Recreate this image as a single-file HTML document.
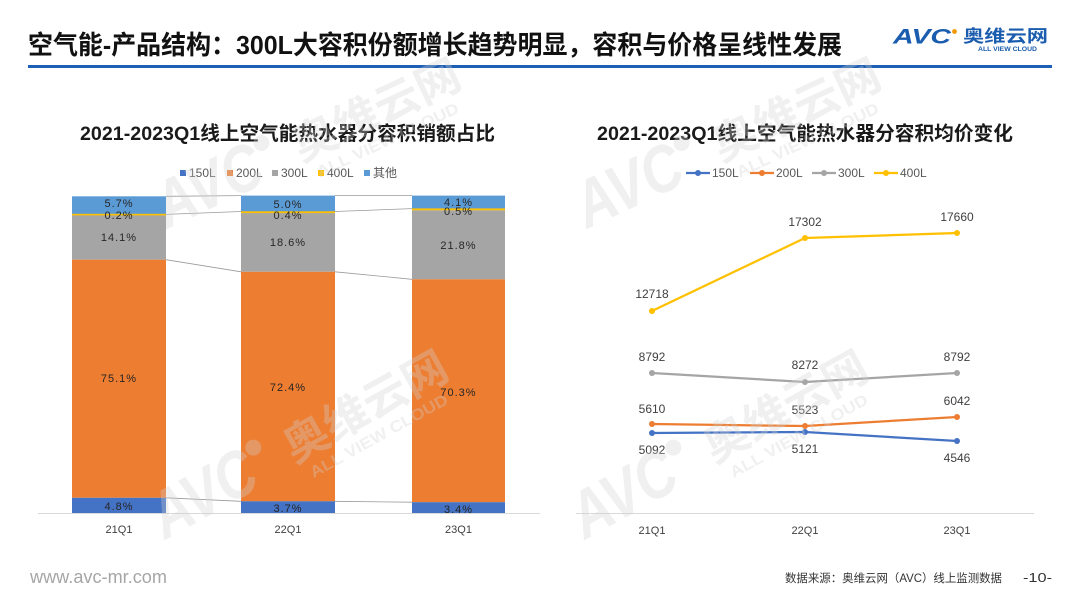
<!DOCTYPE html>
<html><head><meta charset="utf-8"><style>
html,body{margin:0;padding:0;background:#fff;}
svg{display:block;}
text{font-family:"Liberation Sans","Noto Sans CJK SC",sans-serif;}
</style></head><body>
<svg width="1080" height="608" viewBox="0 0 1080 608" xmlns="http://www.w3.org/2000/svg">
<rect width="1080" height="608" fill="#fff"/>

<!-- Header -->
<text x="28" y="54" font-size="26" font-weight="bold" fill="#111" textLength="814" lengthAdjust="spacingAndGlyphs">空气能-产品结构：300L大容积份额增长趋势明显，容积与价格呈线性发展</text>
<rect x="28" y="65" width="1024" height="3" fill="#1d5fb4"/>
<!-- Logo -->
<text x="893" y="43.5" font-size="21" font-weight="bold" font-style="italic" fill="#1a5cae" textLength="58" lengthAdjust="spacingAndGlyphs">AVC</text>
<circle cx="954.5" cy="31.5" r="2.4" fill="#f39800"/>
<text x="963" y="42" font-size="17" font-weight="bold" fill="#1a5cae" textLength="85" lengthAdjust="spacingAndGlyphs">奥维云网</text>
<text x="978" y="51" font-size="6" font-weight="bold" fill="#1a5cae" textLength="59" lengthAdjust="spacingAndGlyphs">ALL VIEW CLOUD</text>

<!-- Left chart -->
<text x="287.5" y="140" font-size="19.5" font-weight="bold" fill="#1a1a1a" text-anchor="middle" textLength="415" lengthAdjust="spacingAndGlyphs">2021-2023Q1线上空气能热水器分容积销额占比</text>
<g font-size="12" fill="#595959">
<rect x="180" y="170" width="6" height="6" fill="#4472C4"/><text x="189" y="177">150L</text>
<rect x="227" y="170" width="6" height="6" fill="#ED7D31"/><text x="236" y="177">200L</text>
<rect x="272" y="170" width="6" height="6" fill="#A5A5A5"/><text x="281" y="177">300L</text>
<rect x="318" y="170" width="6" height="6" fill="#FFC000"/><text x="327" y="177">400L</text>
<rect x="364" y="170" width="6" height="6" fill="#5B9BD5"/><text x="373" y="177">其他</text>
</g>
<!-- bars -->
<g>
<rect x="72" y="196.3" width="94" height="18.1" fill="#5B9BD5"/>
<rect x="72" y="215" width="94" height="44.7" fill="#A5A5A5"/>
<rect x="72" y="213.8" width="94" height="1.6" fill="#FFC000"/>
<rect x="72" y="259.7" width="94" height="238.1" fill="#ED7D31"/>
<rect x="72" y="497.8" width="94" height="15.2" fill="#4472C4"/>

<rect x="241" y="195.6" width="94" height="15.9" fill="#5B9BD5"/>
<rect x="241" y="212.8" width="94" height="59" fill="#A5A5A5"/>
<rect x="241" y="211.3" width="94" height="1.8" fill="#FFC000"/>
<rect x="241" y="271.8" width="94" height="229.5" fill="#ED7D31"/>
<rect x="241" y="501.3" width="94" height="11.7" fill="#4472C4"/>

<rect x="412" y="195.6" width="93" height="13" fill="#5B9BD5"/>
<rect x="412" y="210.2" width="93" height="69.1" fill="#A5A5A5"/>
<rect x="412" y="208.4" width="93" height="1.9" fill="#FFC000"/>
<rect x="412" y="279.3" width="93" height="222.9" fill="#ED7D31"/>
<rect x="412" y="502.2" width="93" height="10.8" fill="#4472C4"/>
</g>
<!-- series lines -->
<g stroke="#9a9a9a" stroke-width="0.8" fill="none">
<line x1="166" y1="196.3" x2="241" y2="195.6"/>
<line x1="166" y1="214.4" x2="241" y2="211.5"/>
<line x1="166" y1="259.7" x2="241" y2="271.8"/>
<line x1="166" y1="497.8" x2="241" y2="501.3"/>
<line x1="335" y1="195.6" x2="412" y2="195.6"/>
<line x1="335" y1="211.5" x2="412" y2="208.6"/>
<line x1="335" y1="271.8" x2="412" y2="279.3"/>
<line x1="335" y1="501.3" x2="412" y2="502.2"/>
</g>
<line x1="38" y1="513.5" x2="540" y2="513.5" stroke="#d9d9d9" stroke-width="1"/>
<!-- bar labels -->
<g font-size="11" fill="#262626" text-anchor="middle" letter-spacing="1">
<text x="119" y="207">5.7%</text>
<text x="119" y="219">0.2%</text>
<text x="119" y="241">14.1%</text>
<text x="119" y="382">75.1%</text>
<text x="119" y="510">4.8%</text>

<text x="288" y="208">5.0%</text>
<text x="288" y="219">0.4%</text>
<text x="288" y="246">18.6%</text>
<text x="288" y="391">72.4%</text>
<text x="288" y="512">3.7%</text>

<text x="458.5" y="206">4.1%</text>
<text x="458.5" y="215">0.5%</text>
<text x="458.5" y="249">21.8%</text>
<text x="458.5" y="396">70.3%</text>
<text x="458.5" y="513">3.4%</text>
</g>
<g font-size="11" fill="#404040" text-anchor="middle">
<text x="119" y="533">21Q1</text>
<text x="288" y="533">22Q1</text>
<text x="458.5" y="533">23Q1</text>
</g>

<!-- Right chart -->
<text x="805" y="140" font-size="19.5" font-weight="bold" fill="#1a1a1a" text-anchor="middle" textLength="416" lengthAdjust="spacingAndGlyphs">2021-2023Q1线上空气能热水器分容积均价变化</text>
<g font-size="12" fill="#595959">
<line x1="686" y1="173" x2="710" y2="173" stroke="#4472C4" stroke-width="2.2"/><circle cx="698" cy="173" r="3" fill="#4472C4"/><text x="712" y="177">150L</text>
<line x1="750" y1="173" x2="774" y2="173" stroke="#ED7D31" stroke-width="2.2"/><circle cx="762" cy="173" r="3" fill="#ED7D31"/><text x="776" y="177">200L</text>
<line x1="812" y1="173" x2="836" y2="173" stroke="#A5A5A5" stroke-width="2.2"/><circle cx="824" cy="173" r="3" fill="#A5A5A5"/><text x="838" y="177">300L</text>
<line x1="874" y1="173" x2="898" y2="173" stroke="#FFC000" stroke-width="2.2"/><circle cx="886" cy="173" r="3" fill="#FFC000"/><text x="900" y="177">400L</text>
</g>
<line x1="576" y1="513.5" x2="1034" y2="513.5" stroke="#d9d9d9" stroke-width="1"/>
<g fill="none" stroke-width="2.25" stroke-linejoin="round">
<polyline points="652,311 805,238 957,233" stroke="#FFC000"/>
<polyline points="652,373 805,382 957,373" stroke="#A5A5A5"/>
<polyline points="652,424 805,426 957,417" stroke="#ED7D31"/>
<polyline points="652,433 805,432 957,441" stroke="#4472C4"/>
</g>
<g>
<circle cx="652" cy="311" r="3" fill="#FFC000"/><circle cx="805" cy="238" r="3" fill="#FFC000"/><circle cx="957" cy="233" r="3" fill="#FFC000"/>
<circle cx="652" cy="373" r="3" fill="#A5A5A5"/><circle cx="805" cy="382" r="3" fill="#A5A5A5"/><circle cx="957" cy="373" r="3" fill="#A5A5A5"/>
<circle cx="652" cy="424" r="3" fill="#ED7D31"/><circle cx="805" cy="426" r="3" fill="#ED7D31"/><circle cx="957" cy="417" r="3" fill="#ED7D31"/>
<circle cx="652" cy="433" r="3" fill="#4472C4"/><circle cx="805" cy="432" r="3" fill="#4472C4"/><circle cx="957" cy="441" r="3" fill="#4472C4"/>
</g>
<g font-size="12" fill="#404040" text-anchor="middle">
<text x="652" y="298">12718</text>
<text x="805" y="226">17302</text>
<text x="957" y="221">17660</text>
<text x="652" y="361">8792</text>
<text x="805" y="369">8272</text>
<text x="957" y="361">8792</text>
<text x="652" y="413">5610</text>
<text x="805" y="414">5523</text>
<text x="957" y="405">6042</text>
<text x="652" y="454">5092</text>
<text x="805" y="453">5121</text>
<text x="957" y="462">4546</text>
</g>
<g font-size="11" fill="#404040" text-anchor="middle">
<text x="652" y="534">21Q1</text>
<text x="805" y="534">22Q1</text>
<text x="957" y="534">23Q1</text>
</g>

<!-- Watermarks -->
<g fill="rgb(210,210,210)" opacity="0.33" font-weight="bold">
<g transform="translate(167,229) rotate(-25)">
<text x="0" y="0" font-size="66" font-style="italic" textLength="112" lengthAdjust="spacingAndGlyphs">AVC</text>
<circle cx="122" cy="-38" r="8"/>
<text x="150" y="-4" font-size="44" textLength="180" lengthAdjust="spacingAndGlyphs">奥维云网</text>
<text x="160" y="18" font-size="16" textLength="155" lengthAdjust="spacingAndGlyphs">ALL VIEW CLOUD</text>
</g>
<g transform="translate(587,229) rotate(-25)">
<text x="0" y="0" font-size="66" font-style="italic" textLength="112" lengthAdjust="spacingAndGlyphs">AVC</text>
<circle cx="122" cy="-38" r="8"/>
<text x="150" y="-4" font-size="44" textLength="180" lengthAdjust="spacingAndGlyphs">奥维云网</text>
<text x="160" y="18" font-size="16" textLength="155" lengthAdjust="spacingAndGlyphs">ALL VIEW CLOUD</text>
</g>
<g transform="translate(165,540) rotate(-29)">
<text x="0" y="0" font-size="66" font-style="italic" textLength="112" lengthAdjust="spacingAndGlyphs">AVC</text>
<circle cx="122" cy="-38" r="8"/>
<text x="150" y="-4" font-size="44" textLength="180" lengthAdjust="spacingAndGlyphs">奥维云网</text>
<text x="160" y="18" font-size="16" textLength="155" lengthAdjust="spacingAndGlyphs">ALL VIEW CLOUD</text>
</g>
<g transform="translate(585,540) rotate(-29)">
<text x="0" y="0" font-size="66" font-style="italic" textLength="112" lengthAdjust="spacingAndGlyphs">AVC</text>
<circle cx="122" cy="-38" r="8"/>
<text x="150" y="-4" font-size="44" textLength="180" lengthAdjust="spacingAndGlyphs">奥维云网</text>
<text x="160" y="18" font-size="16" textLength="155" lengthAdjust="spacingAndGlyphs">ALL VIEW CLOUD</text>
</g>
</g>

<!-- Footer -->
<text x="30" y="583" font-size="18" fill="#a6a6a6" textLength="137" lengthAdjust="spacingAndGlyphs">www.avc-mr.com</text>
<text x="785" y="582" font-size="11.5" fill="#333" textLength="217" lengthAdjust="spacingAndGlyphs">数据来源：奥维云网（AVC）线上监测数据</text>
<text x="1023" y="582" font-size="13" fill="#333" textLength="29" lengthAdjust="spacingAndGlyphs">-10-</text>
</svg>
</body></html>
